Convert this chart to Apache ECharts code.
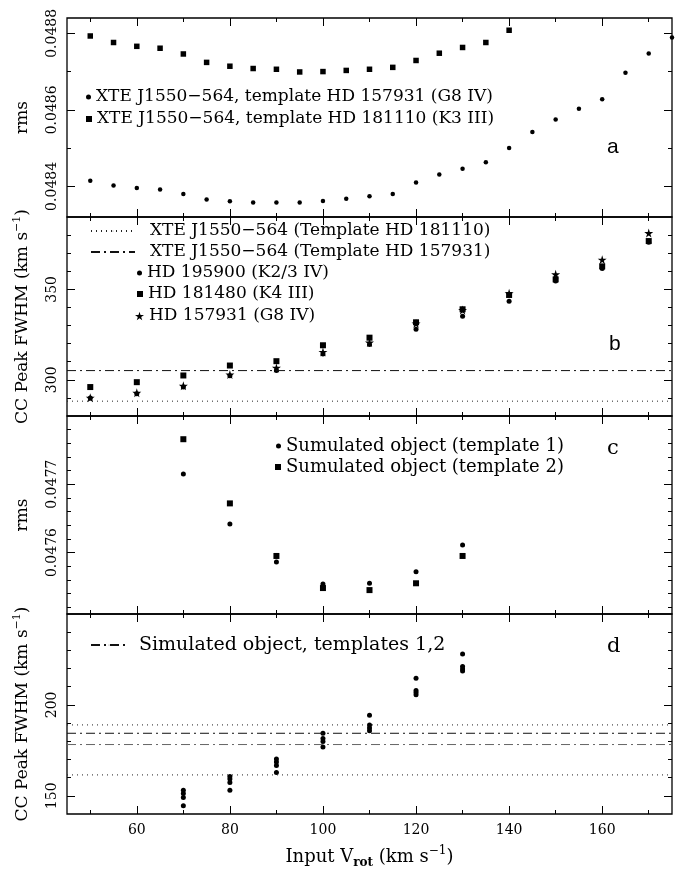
<!DOCTYPE html>
<html>
<head>
<meta charset="utf-8">
<script src="https://cdn.jsdelivr.net/npm/echarts@6/dist/echarts.min.js"></script>
<style>
  html, body { margin: 0; padding: 0; background: #fff; }
  #chart { width: 678px; height: 875px; }
</style>
</head>
<body>
<div id="chart"></div>
<script>
// ---- panel a : rms vs input Vrot (XTE J1550-564)
var vrotA = [50, 55, 60, 65, 70, 75, 80, 85, 90, 95, 100, 105, 110, 115, 120, 125, 130, 135, 140, 145, 150, 155, 160, 165, 170, 175];
var rmsG8 = [0.048415, 0.048402, 0.048396, 0.048392, 0.048380, 0.048366, 0.048361, 0.048358, 0.048358, 0.048358, 0.048362, 0.048368, 0.048374,
             0.048380, 0.048410, 0.048431, 0.048446, 0.048463, 0.048500, 0.048542, 0.048575, 0.048603, 0.048628, 0.048697, 0.048747, 0.048789];
var vrotA2 = [50, 55, 60, 65, 70, 75, 80, 85, 90, 95, 100, 105, 110, 115, 120, 125, 130, 135, 140];
var rmsK3 = [0.048793, 0.048776, 0.048766, 0.048761, 0.048746, 0.048724, 0.048714, 0.048708, 0.048706, 0.048699, 0.048700, 0.048703, 0.048706,
             0.048711, 0.048729, 0.048748, 0.048763, 0.048776, 0.048808];

// ---- panel b : CC peak FWHM of template stars
var vrotB = [50, 60, 70, 80, 90, 100, 110, 120, 130, 140, 150, 160, 170];
var fwhmHD195900 = [290.0, 292.3, 296.0, 302.2, 305.1, 314.3, 319.5, 327.9, 335.1, 343.4, 354.6, 361.6, 376.0];
var fwhmHD181480 = [296.0, 298.7, 302.4, 307.9, 310.3, 319.1, 323.3, 331.8, 339.0, 346.9, 355.5, 362.7, 376.7];
var fwhmHD157931 = [290.1, 292.8, 296.7, 302.9, 306.6, 315.4, 320.6, 331.1, 338.6, 347.8, 358.3, 366.4, 381.1];
var xteFwhm181110 = 288.2;
var xteFwhm157931 = 305.1;

// ---- panel c : rms of simulated object
var vrotC = [70, 80, 90, 100, 110, 120, 130];
var rmsSim1 = [0.047715, 0.047642, 0.047586, 0.047554, 0.047555, 0.047572, 0.047611];
var rmsSim2 = [0.047766, 0.047672, 0.047595, 0.047548, 0.047545, 0.047555, 0.047595];

// ---- panel d : CC peak FWHM of simulated object
var vrotD = [70, 80, 90, 100, 110, 120, 130];
var fwhmSimA = [153.1, 160.6, 170.3, 184.4, 194.3, 214.7, 228.0];
var fwhmSimB = [151.3, 159.2, 168.6, 181.5, 189.0, 207.9, 221.1];
var fwhmSimC = [149.1, 157.3, 166.7, 179.9, 187.3, 206.8, 219.8];
var fwhmSimD = [144.5, 153.1, 162.8, 176.9, 185.8, 205.6, 218.6];
var dottedD = [189.0, 161.5];
var dashDotD = [184.4, 178.2];

// ---- axes ticks
var xMajor = [60, 80, 100, 120, 140, 160];
var xMinor = [50, 70, 90, 110, 130, 150, 170];
var yMajor = [[0.0484, 0.0486, 0.0488], [300, 350], [0.0476, 0.0477], [150, 200]];
var yMinor = [[0.0485, 0.0487],
              [290, 310, 320, 330, 340, 360, 370, 380],
              [0.04752, 0.04754, 0.04756, 0.04758, 0.04762, 0.04764, 0.04766, 0.04768, 0.04772, 0.04774, 0.04776, 0.04778],
              [160, 170, 180, 190, 210, 220, 230, 240]];
var yRange = [[0.04832, 0.04884], [280, 390], [0.04751, 0.04780], [140, 250]];
var xRange = [45, 175];

var serif = '"DejaVu Serif", serif';
var fwhmTitle = 'CC Peak FWHM (km s{sup|−1})';
var titleRich = { sup: { fontSize: 11, verticalAlign: 'top', fontFamily: serif, color: '#000' } };

function pairs (xs, ys) {
  return xs.map(function (x, i) { return [x, ys[i]]; });
}
function flat (x0, x1, v) {
  return [[x0, v], [x1, v]];
}

var tops = [18, 217, 416, 614];
var heights = [199, 199, 198, 200];
var grids = tops.map(function (t, i) {
  return {
    left: 67, width: 605, top: t, height: heights[i],
    show: true, borderColor: '#000', borderWidth: 1.3,
    outerBoundsMode: 'none'
  };
});

function tickAxis (g, pos, range, ticks, len) {
  return {
    type: 'value', gridIndex: g, position: pos,
    min: range[0], max: range[1],
    axisLine: { show: false, onZero: false },
    splitLine: { show: false },
    axisTick: { show: true, inside: true, length: len, customValues: ticks, lineStyle: { color: '#000', width: 1 } },
    axisLabel: { show: false },
    silent: true
  };
}

var xAxes = [], yAxes = [];
[0, 1, 2, 3].forEach(function (g) {
  var xMain = tickAxis(g, 'bottom', xRange, xMajor, 8);
  if (g === 3) {
    xMain.axisLabel = { show: true, customValues: xMajor, margin: 9, color: '#000', fontFamily: serif, fontSize: 14 };
    xMain.name = 'Input V{sub|rot} (km s{sup|−1})';
    xMain.nameLocation = 'middle';
    xMain.nameGap = 31;
    xMain.nameTextStyle = {
      color: '#000', fontFamily: serif, fontSize: 18, lineHeight: 24,
      rich: {
        sub: { fontSize: 12, verticalAlign: 'bottom', fontFamily: serif, color: '#000', fontWeight: 'bold' },
        sup: { fontSize: 12, verticalAlign: 'top', fontFamily: serif, color: '#000' }
      }
    };
  }
  xAxes.push(xMain,
    tickAxis(g, 'bottom', xRange, xMinor, 4),
    tickAxis(g, 'top', xRange, xMajor, 8),
    tickAxis(g, 'top', xRange, xMinor, 4));

  var yMain = tickAxis(g, 'left', yRange[g], yMajor[g], 8);
  yMain.axisLabel = {
    show: true, customValues: yMajor[g], rotate: 90, margin: 8,
    color: '#000', fontFamily: serif, fontSize: 14,
    formatter: (g % 2 === 0) ? function (v) { return v.toFixed(4); } : function (v) { return String(Math.round(v)); }
  };
  yMain.name = (g % 2 === 0) ? 'rms' : fwhmTitle;
  yMain.nameLocation = 'middle';
  yMain.nameRotate = 90;
  yMain.nameGap = 33;
  yMain.nameTextStyle = { color: '#000', fontFamily: serif, fontSize: 17, lineHeight: 22, rich: titleRich };
  yAxes.push(yMain,
    tickAxis(g, 'left', yRange[g], yMinor[g], 4),
    tickAxis(g, 'right', yRange[g], yMajor[g], 8),
    tickAxis(g, 'right', yRange[g], yMinor[g], 4));
});

var starPath = 'path://M50,0 L61,35 L98,35 L68,57 L79,91 L50,70 L21,91 L32,57 L2,35 L39,35 Z';

function dots (name, g, data, symbol, size) {
  return {
    name: name, type: 'scatter', xAxisIndex: g * 4, yAxisIndex: g * 4,
    data: data, symbol: symbol, symbolSize: size, clip: false,
    itemStyle: { color: '#000', opacity: 1 }, silent: true
  };
}
function refLine (name, g, v, type, color) {
  return {
    name: name, type: 'line', xAxisIndex: g * 4, yAxisIndex: g * 4,
    data: flat(xRange[0], xRange[1], v), symbol: 'none', silent: true,
    itemStyle: { color: color },
    lineStyle: { color: color, width: 1, type: type }
  };
}

var dotType = [1, 4];
var dashDotType = [9, 4, 2, 4];

var nA1 = 'XTE J1550−564, template HD 157931 (G8 IV)';
var nA2 = 'XTE J1550−564, template HD 181110 (K3 III)';
var nB1 = 'XTE J1550−564 (Template HD 181110)';
var nB2 = 'XTE J1550−564 (Template HD 157931)';
var nB3 = 'HD 195900 (K2/3 IV)';
var nB4 = 'HD 181480 (K4 III)';
var nB5 = 'HD 157931 (G8 IV)';
var nC1 = 'Sumulated object (template 1)';
var nC2 = 'Sumulated object (template 2)';
var nD1 = 'Simulated object, templates 1,2';

var series = [
  dots(nA1, 0, pairs(vrotA, rmsG8), 'circle', 4.5),
  dots(nA2, 0, pairs(vrotA2, rmsK3), 'rect', 5.5),

  refLine(nB1, 1, xteFwhm181110, dotType, '#222'),
  refLine(nB2, 1, xteFwhm157931, dashDotType, '#111'),
  dots(nB3, 1, pairs(vrotB, fwhmHD195900), 'circle', 5),
  dots(nB4, 1, pairs(vrotB, fwhmHD181480), 'rect', 6),
  dots(nB5, 1, pairs(vrotB, fwhmHD157931), starPath, 9),

  dots(nC1, 2, pairs(vrotC, rmsSim1), 'circle', 5),
  dots(nC2, 2, pairs(vrotC, rmsSim2), 'rect', 6),

  refLine('d dotted upper', 3, dottedD[0], dotType, '#222'),
  refLine('d dotted lower', 3, dottedD[1], dotType, '#222'),
  refLine(nD1, 3, dashDotD[0], dashDotType, '#111'),
  refLine('d dash-dot lower', 3, dashDotD[1], dashDotType, '#666'),
  dots('sim a', 3, pairs(vrotD, fwhmSimA), 'circle', 5),
  dots('sim b', 3, pairs(vrotD, fwhmSimB), 'circle', 5),
  dots('sim c', 3, pairs(vrotD, fwhmSimC), 'circle', 5),
  dots('sim d', 3, pairs(vrotD, fwhmSimD), 'circle', 5)
];

function legendItem (name, left, cy, w, h, fs, pad) {
  return {
    data: [name], left: left, top: cy - fs / 2, padding: 0,
    itemWidth: w, itemHeight: h, itemGap: 0, selectedMode: false,
    textStyle: { fontFamily: serif, fontSize: fs, color: '#000', padding: [0, 0, 0, pad || 0] }
  };
}

var legends = [
  legendItem(nA1, 86, 97, 5, 5, 17),
  legendItem(nA2, 86, 119, 6, 6, 17),
  legendItem(nB1, 90, 231, 44, 1, 17, 10),
  legendItem(nB2, 90, 252, 44, 1, 17, 10),
  legendItem(nB3, 137, 273, 5, 5, 17),
  legendItem(nB4, 137, 294, 6, 6, 17),
  legendItem(nB5, 135, 316, 9, 9, 17),
  legendItem(nC1, 276, 446, 5, 5, 18),
  legendItem(nC2, 275, 467, 6, 6, 18),
  legendItem(nD1, 90, 645, 36, 1, 19, 7)
];

function letter (t, left, top, family) {
  return { type: 'text', left: left, top: top, silent: true,
    style: { text: t, fill: '#000', font: '21px ' + family } };
}

var chart = echarts.init(document.getElementById('chart'), null, { renderer: 'canvas' });
chart.setOption({
  animation: false,
  backgroundColor: '#fff',
  grid: grids,
  xAxis: xAxes,
  yAxis: yAxes,
  legend: legends,
  series: series,
  graphic: [
    letter('a', 607, 137, '"Liberation Sans", sans-serif'),
    letter('b', 609, 334, '"Liberation Sans", sans-serif'),
    letter('c', 607, 438, serif),
    letter('d', 607, 636, serif)
  ]
});
</script>
</body>
</html>
